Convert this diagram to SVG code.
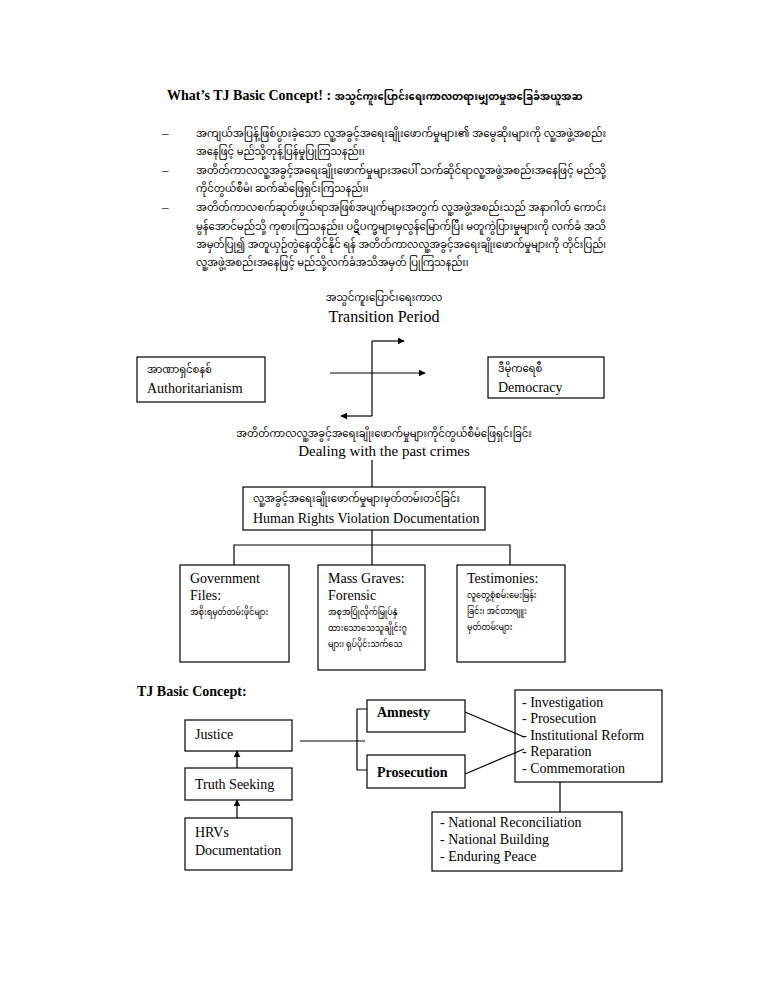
<svg xmlns="http://www.w3.org/2000/svg" width="768" height="994" viewBox="0 0 768 994">
<defs>
<style>
.en{font-family:"Liberation Serif","Times New Roman",serif;fill:#000}
.my{font-family:"Noto Sans Myanmar","Padauk","Myanmar Text","Noto Sans",sans-serif;fill:#000;font-size:10px}
.sm{font-size:8px}
.b{font-weight:bold}
.box{fill:#fff;stroke:#000;stroke-width:1.2}
.ln{fill:none;stroke:#000;stroke-width:1.2}
</style>
<marker id="ah" viewBox="0 0 10 10" refX="9" refY="5" markerWidth="7" markerHeight="7" orient="auto" markerUnits="userSpaceOnUse">
<path d="M0,0 L10,5 L0,10 z" fill="#000"/>
</marker>
</defs>
<rect width="768" height="994" fill="#fff"/>

<g id="title">
<text x="167" y="100" class="en b" font-size="14">What’s TJ Basic Concept! : <tspan class="my" font-size="9.5">အသွင်ကူးပြောင်းရေးကာလတရားမျှတမှုအခြေခံအယူအဆ</tspan></text>
</g>

<g id="bullets">
<text x="162" y="137" class="en" font-size="13">–</text>
<text x="196" y="137" class="my" textLength="410" lengthAdjust="spacingAndGlyphs">အကျယ်အပြန့်ဖြစ်ပွားခဲ့သော လူ့အခွင့်အရေးချိုးဖောက်မှုများ၏ အမွေဆိုးများကို လူ့အဖွဲ့အစည်း</text>
<text x="196" y="155" class="my">အနေဖြင့် မည်သို့တုန့်ပြန်မှုပြုကြသနည်း၊</text>
<text x="162" y="174" class="en" font-size="13">–</text>
<text x="196" y="174" class="my" textLength="410" lengthAdjust="spacingAndGlyphs">အတိတ်ကာလလူ့အခွင့်အရေးချိုးဖောက်မှုများအပေါ် သက်ဆိုင်ရာလူ့အဖွဲ့အစည်းအနေဖြင့် မည်သို့</text>
<text x="196" y="192" class="my">ကိုင်တွယ်စီမံ၊ ဆက်ဆံဖြေရှင်းကြသနည်း၊</text>
<text x="162" y="211" class="en" font-size="13">–</text>
<text x="196" y="211" class="my" textLength="410" lengthAdjust="spacingAndGlyphs">အတိတ်ကာလစက်ဆုတ်ဖွယ်ရာအဖြစ်အပျက်များအတွက် လူ့အဖွဲ့အစည်းသည် အနာဂါတ် ကောင်း</text>
<text x="196" y="230" class="my" textLength="410" lengthAdjust="spacingAndGlyphs">မွန်အောင်မည်သို့ ကုစားကြသနည်း၊ ပဋိပက္ခများမှလွန်မြောက်ပြီး မတူကွဲပြားမှုများကို လက်ခံ အသိ</text>
<text x="196" y="248" class="my" textLength="410" lengthAdjust="spacingAndGlyphs">အမှတ်ပြု၍ အတူယှဉ်တွဲနေထိုင်နိုင် ရန် အတိတ်ကာလလူ့အခွင့်အရေးချိုးဖောက်မှုများကို တိုင်းပြည်၊</text>
<text x="196" y="266" class="my">လူ့အဖွဲ့အစည်းအနေဖြင့် မည်သို့လက်ခံအသိအမှတ် ပြုကြသနည်း၊</text>
</g>

<g id="transition">
<text x="384" y="301" class="my" text-anchor="middle">အသွင်ကူးပြောင်းရေးကာလ</text>
<text x="384" y="322" class="en" font-size="16" text-anchor="middle">Transition Period</text>
</g>

<g id="authoritarianism">
<rect x="137" y="357" width="128" height="45" class="box"/>
<text x="147" y="373" class="my">အာဏာရှင်စနစ်</text>
<text x="147" y="393" class="en" font-size="14">Authoritarianism</text>
</g>

<g id="democracy">
<rect x="488" y="357" width="116" height="41" class="box"/>
<text x="498" y="372" class="my">ဒီမိုကရေစီ</text>
<text x="498" y="392" class="en" font-size="14">Democracy</text>
</g>

<g id="dealing">
<text x="384" y="437" class="my" text-anchor="middle">အတိတ်ကာလလူ့အခွင့်အရေးချိုးဖောက်မှုများကိုင်တွယ်စီမံဖြေရှင်းခြင်း</text>
<text x="384" y="456" class="en" font-size="15" text-anchor="middle">Dealing with the past crimes</text>
</g>

<g id="hrv-doc">
<rect x="243" y="487" width="242" height="43" class="box"/>
<text x="253" y="502" class="my">လူ့အခွင့်အရေးချိုးဖောက်မှုများမှတ်တမ်းတင်ခြင်း</text>
<text x="253" y="523" class="en" font-size="14">Human Rights Violation Documentation</text>
</g>

<g id="gov-files">
<rect x="180" y="565" width="109" height="97" class="box"/>
<text x="190" y="583" class="en" font-size="14">Government</text>
<text x="190" y="600" class="en" font-size="14">Files:</text>
<text x="190" y="615" class="my sm">အစိုးရမှတ်တမ်းဖိုင်များ</text>
</g>

<g id="mass-graves">
<rect x="318" y="565" width="107" height="105" class="box"/>
<text x="328" y="583" class="en" font-size="14">Mass Graves:</text>
<text x="328" y="600" class="en" font-size="14">Forensic</text>
<text x="328" y="615" class="my sm">အစုအပြုံလိုက်မြှုပ်နှံ</text>
<text x="328" y="631" class="my sm">ထားသောသေသူချိုင်းဂူ</text>
<text x="328" y="647" class="my sm">များ၊ ရုပ်ပိုင်းသက်သေ</text>
</g>

<g id="testimonies">
<rect x="457" y="565" width="108" height="97" class="box"/>
<text x="467" y="583" class="en" font-size="14">Testimonies:</text>
<text x="467" y="598" class="my sm">လူတွေ့စုံစမ်းမေးမြန်း</text>
<text x="467" y="614" class="my sm">ခြင်း၊ အင်တာဗျူး</text>
<text x="467" y="630" class="my sm">မှတ်တမ်းများ</text>
</g>

<g id="tj-heading">
<text x="137" y="696" class="en b" font-size="14">TJ Basic Concept:</text>
</g>

<g id="justice">
<rect x="185" y="720" width="107" height="31" class="box"/>
<text x="195" y="739" class="en" font-size="14">Justice</text>
</g>

<g id="truth-seeking">
<rect x="185" y="768" width="107" height="32" class="box"/>
<text x="195" y="789" class="en" font-size="14">Truth Seeking</text>
</g>

<g id="hrvs">
<rect x="185" y="818" width="107" height="52" class="box"/>
<text x="195" y="837" class="en" font-size="14">HRVs</text>
<text x="195" y="855" class="en" font-size="14">Documentation</text>
</g>

<g id="amnesty">
<rect x="367" y="700" width="98" height="32" class="box"/>
<text x="377" y="717" class="en b" font-size="14">Amnesty</text>
</g>

<g id="prosecution">
<rect x="367" y="755" width="98" height="33" class="box"/>
<text x="377" y="777" class="en b" font-size="14">Prosecution</text>
</g>

<g id="measures">
<rect x="515" y="690" width="147" height="92" class="box"/>
<text x="522" y="707" class="en" font-size="14">- Investigation</text>
<text x="522" y="723" class="en" font-size="14">- Prosecution</text>
<text x="522" y="740" class="en" font-size="14">- Institutional Reform</text>
<text x="522" y="756" class="en" font-size="14">- Reparation</text>
<text x="522" y="773" class="en" font-size="14">- Commemoration</text>
</g>

<g id="outcomes">
<rect x="432" y="812" width="190" height="59" class="box"/>
<text x="440" y="827" class="en" font-size="14">- National Reconciliation</text>
<text x="440" y="844" class="en" font-size="14">- National Building</text>
<text x="440" y="861" class="en" font-size="14">- Enduring Peace</text>
</g>

<g id="connectors">
<line x1="330" y1="373" x2="425" y2="373" class="ln" marker-end="url(#ah)"/>
<line x1="372" y1="341" x2="372" y2="416" class="ln"/>
<line x1="372" y1="341" x2="404" y2="341" class="ln" marker-end="url(#ah)"/>
<line x1="372" y1="416" x2="341" y2="416" class="ln" marker-end="url(#ah)"/>
<line x1="372" y1="460" x2="372" y2="487" class="ln"/>
<line x1="372" y1="530" x2="372" y2="565" class="ln"/>
<polyline points="234,565 234,545 510,545 510,565" class="ln"/>
<line x1="237" y1="768" x2="237" y2="751" class="ln" marker-end="url(#ah)"/>
<line x1="237" y1="818" x2="237" y2="800" class="ln" marker-end="url(#ah)"/>
<line x1="300" y1="741" x2="365" y2="741" class="ln" stroke="#444"/>
<polyline points="367,709 357,709 357,770 367,770" class="ln"/>
<line x1="465" y1="712" x2="524" y2="737" class="ln"/>
<line x1="465" y1="774" x2="524" y2="749" class="ln"/>
<line x1="560" y1="782" x2="560" y2="812" class="ln"/>
</g>
</svg>
